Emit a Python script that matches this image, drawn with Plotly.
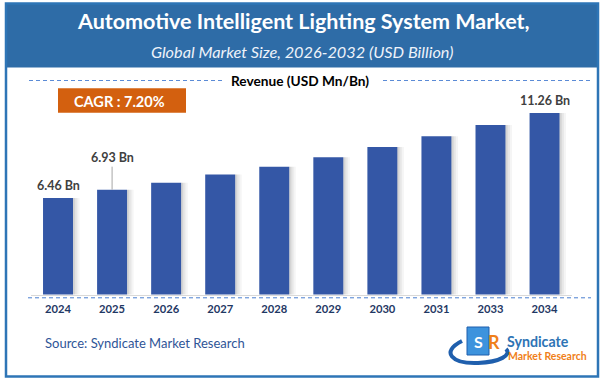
import plotly.graph_objects as go

# ---------------- data ----------------
years = ["2024", "2025", "2026", "2027", "2028", "2029", "2030", "2031", "2033", "2034"]
revenue = [6.46, 6.93, 7.32, 7.78, 8.23, 8.76, 9.34, 9.95, 10.59, 11.26]
labelled = {"2024": "6.46 Bn", "2025": "6.93 Bn", "2034": "11.26 Bn"}

title_text = "Automotive Intelligent Lighting System Market,"
subtitle_text = "Global Market Size, 2026-2032 (USD Billion)"
revenue_text = "Revenue (USD Mn/Bn)"
cagr_text = "CAGR : 7.20%"
source_text = "Source: Syndicate Market Research"

W, H = 604, 382
FONT = "Lato"
BAR = "#3457A6"
HEADER = "#2E6CA7"
FRAME = "#2E75B6"


def xp(px):
    return px / W


def yp(py):
    return 1 - py / H


pos = list(range(len(years)))

fig = go.Figure()

bw = 0.555
fig.add_trace(go.Bar(x=pos, y=revenue, width=bw,
                     marker=dict(color=BAR, line=dict(width=0)),
                     hoverinfo="skip", showlegend=False))
# soft shadow on the right of each bar
sw = 0.04
for i, op in enumerate([0.22, 0.12, 0.05]):
    fig.add_trace(go.Bar(x=[p + bw / 2 + sw * (i + 0.5) for p in pos], y=revenue, width=sw,
                         marker=dict(color=f"rgba(60,60,60,{op})", line=dict(width=0)),
                         hoverinfo="skip", showlegend=False))

shapes = []
# header band
shapes.append(dict(type="rect", xref="paper", yref="paper", x0=xp(5), x1=xp(599), y0=yp(67.5), y1=yp(3),
                   fillcolor=HEADER, line=dict(width=0), layer="below"))
# frame
shapes.append(dict(type="rect", xref="paper", yref="paper", x0=xp(6), x1=xp(598), y0=yp(376.5), y1=yp(3.5),
                   fillcolor="rgba(0,0,0,0)", line=dict(color=FRAME, width=2.5)))
# dashed lines beside "Revenue"
for x0, x1 in [(29, 223), (383, 591)]:
    shapes.append(dict(type="line", xref="paper", yref="paper", x0=xp(x0), x1=xp(x1), y0=yp(80.5), y1=yp(80.5),
                       line=dict(color="#5B8BD6", width=1, dash="4px,3px")))
# dashed line under axis
shapes.append(dict(type="line", xref="paper", yref="paper", x0=xp(28), x1=xp(591), y0=yp(297.8), y1=yp(297.8),
                   line=dict(color="#4A7FD0", width=1, dash="4px,3px")))
# CAGR box
shapes.append(dict(type="rect", xref="paper", yref="paper", x0=xp(58), x1=xp(186), y0=yp(112.7), y1=yp(88.3),
                   fillcolor="#D3600F", line=dict(width=0)))
# logo swoosh and block
shapes.append(dict(type="path", xref="paper", yref="paper",
                   path=(f"M {xp(462)},{yp(341)} C {xp(440)},{yp(352)} {xp(452)},{yp(364)} {xp(478)},{yp(363)} "
                         f"C {xp(500)},{yp(362)} {xp(512)},{yp(355)} {xp(506)},{yp(349)}"),
                   line=dict(color="#1F5FAD", width=4), fillcolor="rgba(0,0,0,0)"))
shapes.append(dict(type="rect", xref="paper", yref="paper", x0=xp(467), x1=xp(489), y0=yp(355), y1=yp(327),
                   fillcolor="#3D93DD", line=dict(color="#1F5FAD", width=1)))

annotations = [
    dict(text=f"<b>{title_text}</b>", x=xp(303), y=yp(21), xref="paper", yref="paper", showarrow=False,
         font=dict(family=FONT, size=21.5, color="white"), xanchor="center", yanchor="middle"),
    dict(text=f"<i>{subtitle_text}</i>", x=xp(302), y=yp(51.5), xref="paper", yref="paper", showarrow=False,
         font=dict(family=FONT, size=16.3, color="#EEF3FA"), xanchor="center", yanchor="middle"),
    dict(text=f"<b>{revenue_text}</b>", x=xp(300), y=yp(80.5), xref="paper", yref="paper", showarrow=False,
         font=dict(family=FONT, size=13.7, color="black"), xanchor="center", yanchor="middle"),
    dict(text=f"<b>{cagr_text}</b>", x=xp(120), y=yp(101), xref="paper", yref="paper", showarrow=False,
         font=dict(family=FONT, size=14.5, color="white"), xanchor="center", yanchor="middle"),
    dict(text=source_text, x=xp(43), y=yp(343), xref="paper", yref="paper", showarrow=False,
         font=dict(family=FONT, size=13, color="#2F5597"), xanchor="left", yanchor="middle"),
    dict(text="<b>Syndicate</b>", x=xp(505), y=yp(341.5), xref="paper", yref="paper", showarrow=False,
         font=dict(family=FONT, size=14.2, color="#2E74B5"), xanchor="left", yanchor="middle"),
    dict(text="<b>Market Research</b>", x=xp(506), y=yp(355.5), xref="paper", yref="paper", showarrow=False,
         font=dict(family=FONT, size=10.5, color="#F07F1A"), xanchor="left", yanchor="middle"),
    dict(text="<b>R</b>", x=xp(494), y=yp(342), xref="paper", yref="paper", showarrow=False,
         font=dict(family=FONT, size=18, color="#F07F1A"), xanchor="center", yanchor="middle"),
    dict(text="<b>S</b>", x=xp(478), y=yp(341), xref="paper", yref="paper", showarrow=False,
         font=dict(family=FONT, size=16, color="white"), xanchor="center", yanchor="middle"),
]

for p, yr, v in zip(pos, years, revenue):
    if yr not in labelled:
        continue
    if yr == "2025":
        annotations.append(dict(text=f"<b>{labelled[yr]}</b>", x=p, y=v, xref="x", yref="y",
                                showarrow=True, arrowhead=0, arrowwidth=1, arrowcolor="#A6A6A6",
                                ax=0, ay=-32, font=dict(family=FONT, size=12.5, color="#404040")))
    else:
        annotations.append(dict(text=f"<b>{labelled[yr]}</b>", x=p, y=v, xref="x", yref="y",
                                showarrow=False, yshift=12.5, yanchor="middle",
                                font=dict(family=FONT, size=12.5, color="#404040")))

fig.update_layout(
    width=W, height=H, autosize=False,
    margin=dict(l=0, r=0, t=0, b=0, pad=0),
    paper_bgcolor="white", plot_bgcolor="white",
    barmode="overlay",
    showlegend=False,
    hovermode=False,
    shapes=shapes,
    annotations=annotations,
    xaxis=dict(domain=[xp(31), xp(571.6)], range=[-0.5, len(years) - 0.5], automargin=False,
               tickmode="array", tickvals=pos, ticktext=[f"<b>{y}</b>" for y in years],
               showgrid=False, zeroline=False, showline=True, linecolor="#D9D9D9", linewidth=1,
               ticks="", ticklabelstandoff=4,
               tickfont=dict(family=FONT, size=11.2, color="#1F3864"), anchor="y"),
    yaxis=dict(domain=[yp(294.5), yp(100)], range=[1, 12], visible=False, automargin=False,
               showgrid=False, zeroline=False),
)

fig.write_html("out.html", config={"displayModeBar": False},
               post_script="document.body.style.margin='0';document.body.style.overflow='hidden';")
